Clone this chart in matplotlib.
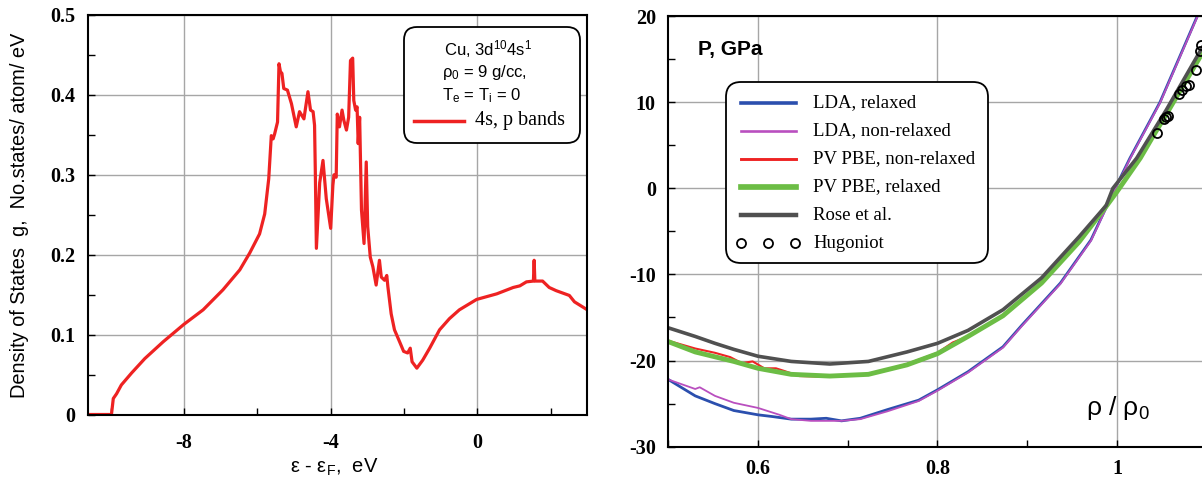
import matplotlib
matplotlib.use("Agg")
import matplotlib.pyplot as plt
from matplotlib.patches import FancyBboxPatch
from matplotlib.lines import Line2D
from matplotlib.ticker import MultipleLocator, FuncFormatter
from matplotlib.transforms import IdentityTransform

plt.rcParams['font.family'] = ['Liberation Sans', 'DejaVu Sans']
plt.rcParams['mathtext.fontset'] = 'custom'
plt.rcParams['mathtext.rm'] = 'Liberation Sans'
plt.rcParams['mathtext.it'] = 'Liberation Sans:italic'
plt.rcParams['mathtext.bf'] = 'Liberation Sans:bold'
plt.rcParams['axes.unicode_minus'] = False

W, H = 1202, 482

# --- left panel: DOS of Cu, 4s,p bands ---
energy = [-10.62, -9.98, -9.93, -9.84, -9.71, -9.43, -9.07, -8.57, -8.0, -7.48,
          -6.94, -6.48, -6.21, -5.94, -5.80, -5.69, -5.62, -5.57, -5.53, -5.45,
          -5.41, -5.37, -5.33, -5.28, -5.18, -5.07, -4.94, -4.85, -4.73, -4.62,
          -4.55, -4.48, -4.44, -4.42, -4.39, -4.30, -4.21, -4.12, -4.0, -3.94,
          -3.91, -3.85, -3.82, -3.76, -3.69, -3.64, -3.57, -3.51, -3.46, -3.40,
          -3.37, -3.32, -3.28, -3.25, -3.21, -3.16, -3.09, -3.03, -2.99, -2.92,
          -2.85, -2.76, -2.67, -2.62, -2.53, -2.47, -2.44, -2.35, -2.26, -2.12,
          -2.01, -1.90, -1.83, -1.78, -1.65, -1.49, -1.30, -1.03, -0.76, -0.49,
          -0.02, 0.53, 0.98, 1.16, 1.34, 1.53, 1.55, 1.57, 1.78, 1.96,
          2.15, 2.33, 2.51, 2.65, 3.0]
dos = [0.0, 0.0, 0.020, 0.026, 0.037, 0.052, 0.070, 0.091, 0.113, 0.131,
       0.156, 0.181, 0.202, 0.226, 0.251, 0.295, 0.349, 0.345, 0.351, 0.366,
       0.439, 0.429, 0.427, 0.408, 0.406, 0.389, 0.360, 0.379, 0.370, 0.404,
       0.381, 0.379, 0.362, 0.306, 0.208, 0.290, 0.318, 0.270, 0.233, 0.287,
       0.300, 0.297, 0.376, 0.360, 0.381, 0.368, 0.356, 0.372, 0.443, 0.446,
       0.393, 0.381, 0.385, 0.339, 0.372, 0.256, 0.214, 0.316, 0.235, 0.197,
       0.185, 0.162, 0.193, 0.172, 0.168, 0.174, 0.160, 0.126, 0.106, 0.091,
       0.079, 0.077, 0.083, 0.066, 0.058, 0.068, 0.083, 0.106, 0.120, 0.131,
       0.144, 0.151, 0.159, 0.161, 0.166, 0.167, 0.193, 0.167, 0.167, 0.159,
       0.155, 0.152, 0.149, 0.141, 0.131]

# --- right panel: cold pressure P(rho/rho0) ---
rho_lda_rel = [0.50, 0.53, 0.552, 0.573, 0.60, 0.616, 0.637, 0.659, 0.676, 0.693,
               0.714, 0.744, 0.779, 0.80, 0.834, 0.873, 0.894, 0.937, 0.971, 0.998,
               1.0145, 1.048, 1.0896, 1.10]
p_lda_rel = [-22.2, -24.1, -25.0, -25.8, -26.3, -26.5, -26.8, -26.8, -26.7, -27.0,
             -26.7, -25.7, -24.6, -23.4, -21.3, -18.4, -15.9, -11.0, -6.0, 0.0,
             3.5, 10.0, 20.0, 22.4]

rho_lda_nonrel = [0.50, 0.53, 0.535, 0.552, 0.573, 0.60, 0.624, 0.637, 0.659, 0.693,
                  0.714, 0.744, 0.779, 0.80, 0.834, 0.873, 0.894, 0.937, 0.971, 0.998,
                  1.0145, 1.048, 1.0896, 1.10]
p_lda_nonrel = [-22.2, -23.3, -23.1, -24.1, -24.9, -25.5, -26.3, -26.8, -27.0, -27.0,
                -26.8, -25.9, -24.7, -23.5, -21.4, -18.5, -16.0, -11.1, -6.1, -0.1,
                3.4, 9.9, 19.9, 22.3]

rho_pbe_nonrel = [0.50, 0.53, 0.552, 0.569, 0.582, 0.594, 0.607, 0.620, 0.629, 0.646,
                  0.68, 0.723, 0.766, 0.80, 0.817, 0.834, 0.873, 0.916, 0.958, 0.988,
                  1.0, 1.026, 1.04, 1.055, 1.094, 1.10]
p_pbe_nonrel = [-17.7, -18.6, -19.1, -19.6, -20.3, -20.1, -20.9, -20.9, -21.2, -21.8,
                -21.9, -21.6, -20.4, -19.1, -17.9, -17.2, -14.8, -11.0, -6.2, -2.1,
                -0.4, 3.5, 6.0, 8.6, 15.5, 16.8]

rho_pbe_rel = [0.50, 0.53, 0.573, 0.60, 0.637, 0.68, 0.723, 0.766, 0.80, 0.834,
               0.873, 0.916, 0.958, 0.988, 1.0, 1.026, 1.04, 1.055, 1.094, 1.10]
p_pbe_rel = [-17.8, -19.0, -20.1, -20.9, -21.6, -21.8, -21.6, -20.5, -19.2, -17.2,
             -14.8, -11.0, -6.2, -2.1, -0.4, 3.5, 6.0, 8.6, 15.5, 16.8]

rho_rose = [0.50, 0.53, 0.552, 0.573, 0.60, 0.637, 0.68, 0.723, 0.766, 0.80,
            0.834, 0.873, 0.916, 0.958, 0.988, 0.9955, 1.022, 1.055, 1.0926, 1.10]
p_rose = [-16.2, -17.2, -18.0, -18.7, -19.5, -20.1, -20.4, -20.1, -19.0, -18.0,
          -16.5, -14.1, -10.4, -5.6, -2.0, 0.0, 3.5, 9.1, 15.9, 17.2]

rho_hug = [1.045, 1.052, 1.055, 1.057, 1.069, 1.073, 1.077, 1.080, 1.088, 1.093, 1.094]
p_hug = [6.4, 8.0, 8.3, 8.4, 10.9, 11.4, 11.9, 12.0, 13.7, 15.9, 16.6]

series = [
    # label, x, y, color, lw
    ("LDA, relaxed", rho_lda_rel, p_lda_rel, "#2b4fae", 2.0),
    ("LDA, non-relaxed", rho_lda_nonrel, p_lda_nonrel, "#b94fbf", 1.3),
    ("PV PBE, non-relaxed", rho_pbe_nonrel, p_pbe_nonrel, "#ee2424", 1.5),
    ("PV PBE, relaxed", rho_pbe_rel, p_pbe_rel, "#6cbd45", 3.5),
    ("Rose et al.", rho_rose, p_rose, "#505050", 2.6),
]


def px_to_disp(x, y):
    """image pixel (top-left origin) -> display coords"""
    return x, H - y


def style_axes(ax, xpad):
    ax.tick_params(which='both', direction='in', top=False, right=False,
                   labelsize=14.5, pad=9)
    ax.tick_params(which='major', length=5, width=1)
    ax.tick_params(which='minor', length=5, width=1)
    ax.tick_params(axis='x', pad=xpad)
    ax.grid(True, which='major', color='#a6a6a6', lw=1.0)
    ax.set_axisbelow(True)
    for sp in ax.spines.values():
        sp.set_linewidth(1.5)
    fmt = FuncFormatter(lambda v, pos: f"{v:g}")
    ax.xaxis.set_major_formatter(fmt)
    ax.yaxis.set_major_formatter(fmt)
    for lab in ax.get_xticklabels() + ax.get_yticklabels():
        lab.set_fontfamily('Liberation Serif')
        lab.set_fontweight('bold')


def rounded_box(fig, x0, y0, x1, y1, r):
    box = FancyBboxPatch(px_to_disp(x0, y1), x1 - x0, y1 - y0,
                         boxstyle=f"round,pad=0,rounding_size={r}",
                         transform=IdentityTransform(), fc='white', ec='black',
                         lw=1.3, zorder=10)
    fig.add_artist(box)


def ftext(fig, x, y, s, **kw):
    fig.text(*px_to_disp(x, y), s, transform=IdentityTransform(), zorder=11, **kw)


fig = plt.figure(figsize=(W / 100, H / 100), dpi=100)

# left axes
ax1 = fig.add_axes([88 / W, (H - 414.5) / H, (587.3 - 88) / W, (414.5 - 15) / H])
ax1.plot(energy, dos, color='#ee2222', lw=2.3, solid_joinstyle='round')
ax1.set_xlim(-10.62, 3.0)
ax1.set_ylim(0, 0.5)
ax1.xaxis.set_major_locator(MultipleLocator(4))
ax1.xaxis.set_minor_locator(MultipleLocator(2))
ax1.yaxis.set_major_locator(MultipleLocator(0.1))
ax1.yaxis.set_minor_locator(MultipleLocator(0.05))
style_axes(ax1, 13)

ftext(fig, 20, 215, "Density of States  g,  No.states/ atom/ eV", rotation=90,
      ha='center', va='center', fontsize=14.4)
ftext(fig, 334, 467, r"ε - ε$_\mathrm{F}$,  eV", ha='center', va='center', fontsize=14.5)

# left legend
rounded_box(fig, 404, 27, 580, 143, 13)
ftext(fig, 444, 49, r"Cu, 3d$^{10}$4s$^1$", ha='left', va='center', fontsize=12)
ftext(fig, 442, 73, r"ρ$_0$ = 9 g/cc,", ha='left', va='center', fontsize=12)
ftext(fig, 442, 96, r"T$_\mathrm{e}$ = T$_\mathrm{i}$ = 0", ha='left', va='center', fontsize=12)
fig.add_artist(Line2D([414, 464], [H - 121, H - 121], color='#ee2222', lw=2.5,
                      transform=IdentityTransform(), zorder=11))
ftext(fig, 475, 120, "4s, p bands", ha='left', va='center', fontsize=14.5,
      family='Liberation Serif')

# right axes
ax2 = fig.add_axes([668.3 / W, (H - 446.7) / H, (W - 668.3) / W, (446.7 - 16) / H])
for label, xs, ys, color, lw in series:
    ax2.plot(xs, ys, color=color, lw=lw, solid_capstyle='round')
ax2.plot(rho_hug, p_hug, ls='none', marker='o', ms=6.5, mfc='none', mec='black', mew=1.3)
ax2.set_xlim(0.5, 1.0948)
ax2.set_ylim(-30, 20)
ax2.xaxis.set_major_locator(MultipleLocator(0.2))
ax2.xaxis.set_minor_locator(MultipleLocator(0.1))
ax2.yaxis.set_major_locator(MultipleLocator(10))
ax2.yaxis.set_minor_locator(MultipleLocator(5))
ax2.spines['right'].set_visible(False)
style_axes(ax2, 9)

ftext(fig, 698, 49, "P, GPa", ha='left', va='center', fontsize=15, fontweight='bold')
ftext(fig, 1118, 408, r"ρ / ρ$_0$", ha='center', va='center', fontsize=19)

# right legend
rounded_box(fig, 726, 82, 988, 263, 15)
row_y = [103, 131, 159, 187, 215, 243]
for (label, xs, ys, color, lw), y in zip(series, row_y):
    fig.add_artist(Line2D([741, 796], [H - y, H - y], color=color, lw=lw + 0.6,
                          transform=IdentityTransform(), zorder=11))
    ftext(fig, 813, y, label, ha='left', va='center', fontsize=13.5,
          family='Liberation Serif')
fig.add_artist(Line2D([741, 768, 795], [H - row_y[5]] * 3, ls='none', marker='o',
                      ms=6.5, mfc='none', mec='black', mew=1.3,
                      transform=IdentityTransform(), zorder=11))
ftext(fig, 813, row_y[5], "Hugoniot", ha='left', va='center', fontsize=13.5,
      family='Liberation Serif')

fig.savefig("out.png", dpi=100)
